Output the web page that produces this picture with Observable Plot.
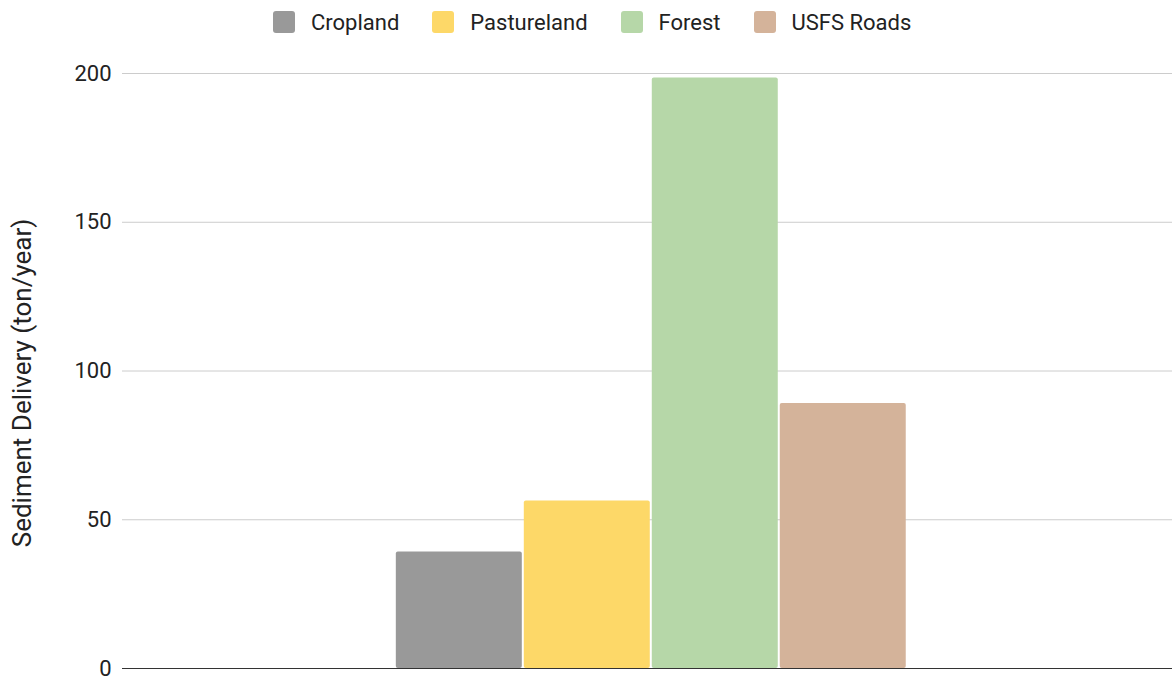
<!DOCTYPE html>
<html>
<head>
<meta charset="utf-8">
<script src="https://cdn.jsdelivr.net/npm/d3@7"></script>
<script src="https://cdn.jsdelivr.net/npm/@observablehq/plot@0.6"></script>
<style>
  body { margin: 0; background: #fff; font-family: Roboto, sans-serif; }
  #legend { height: 44px; display: flex; align-items: center; padding-left: 273px; box-sizing: border-box; }
  .item { display: flex; align-items: center; margin-right: 33px; font-size: 22px; color: #222; }
  .swatch { width: 22px; height: 22px; border-radius: 3px; margin-right: 16px; }
  #chart svg { display: block; overflow: visible; }
</style>
</head>
<body>
<div id="legend"></div>
<div id="chart"></div>
<script>
// Sediment delivery by source (ton/year)
const sources = ["Cropland", "Pastureland", "Forest", "USFS Roads"];
const delivery = [39.2, 56.3, 198.5, 89.1];
const sourceColors = ["#999999", "#fdd868", "#b6d7a8", "#d4b39a"];
const yTicks = [0, 50, 100, 150, 200];
const yTitle = "Sediment Delivery (ton/year)";

const rows = sources.map((s, i) => ({ source: s, value: delivery[i] }));

// Legend row
const legend = d3.select("#legend");
sources.forEach((s, i) => {
  const item = legend.append("div").attr("class", "item");
  item.append("div").attr("class", "swatch").style("background", sourceColors[i]);
  item.append("span").text(s);
});

const chart = Plot.plot({
  width: 1172,
  height: 635,
  marginLeft: 122,
  marginRight: 0,
  marginTop: 29,
  marginBottom: 11,
  style: { fontFamily: "Roboto", fontSize: "22px", color: "#222", background: "white", overflow: "visible" },
  x: { domain: sources, paddingInner: 0.0156, paddingOuter: 2.11, align: 0.507, round: false, axis: null },
  y: { domain: [0, 200] },
  color: { domain: sources, range: sourceColors },
  marks: [
    Plot.gridY(yTicks, { stroke: "#cccccc", strokeOpacity: 1 }),
    Plot.axisY(yTicks, { tickSize: 0, tickPadding: 11, label: null }),
    // vertical axis title beside the frame's left side
    Plot.text([yTitle], {
      frameAnchor: "left",
      textAnchor: "middle",
      lineAnchor: "middle",
      rotate: -90,
      dx: -100,
      dy: 12,
      fontSize: 26,
      fill: "#222"
    }),
    Plot.barY(rows, { x: "source", y: "value", fill: "source", rx: 2 }),
    Plot.ruleY([0], { stroke: "#333333" })
  ]
});
document.getElementById("chart").appendChild(chart);
</script>
</body>
</html>
